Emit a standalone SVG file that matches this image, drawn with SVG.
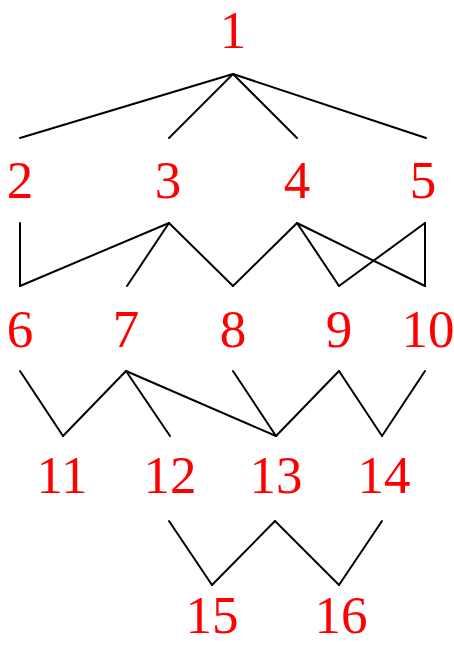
<svg xmlns="http://www.w3.org/2000/svg" width="454" height="646" viewBox="0 0 454 646">
<style>
text{font-family:"Liberation Serif","Times New Roman",serif;font-size:53px;fill:#ff0000;text-anchor:middle}
#edges line{stroke:#000;stroke-width:2;stroke-linecap:round}
</style>
<rect width="454" height="646" fill="#fff"/>
<g id="edges">
<line x1="233" y1="74" x2="20" y2="138"/>
<line x1="233" y1="74" x2="169" y2="138"/>
<line x1="233" y1="74" x2="297" y2="138"/>
<line x1="233" y1="74" x2="426" y2="138"/>
<line x1="20" y1="223" x2="20" y2="286"/>
<line x1="169" y1="223" x2="20" y2="286"/>
<line x1="169" y1="223" x2="127" y2="286"/>
<line x1="169" y1="223" x2="233" y2="286"/>
<line x1="297" y1="223" x2="233" y2="286"/>
<line x1="297" y1="223" x2="339" y2="286"/>
<line x1="297" y1="223" x2="425" y2="286"/>
<line x1="425" y1="223" x2="339" y2="286"/>
<line x1="425" y1="223" x2="425" y2="286"/>
<line x1="20" y1="371" x2="63" y2="436"/>
<line x1="126" y1="371" x2="63" y2="436"/>
<line x1="126" y1="371" x2="170" y2="436"/>
<line x1="126" y1="371" x2="276" y2="436"/>
<line x1="233" y1="371" x2="276" y2="436"/>
<line x1="339" y1="371" x2="276" y2="436"/>
<line x1="339" y1="371" x2="382" y2="436"/>
<line x1="425" y1="371" x2="382" y2="436"/>
<line x1="169" y1="521" x2="212" y2="585"/>
<line x1="275" y1="521" x2="212" y2="585"/>
<line x1="275" y1="521" x2="339" y2="585"/>
<line x1="382" y1="521" x2="339" y2="585"/>
</g>
<g id="n1"><text x="233" y="48">1</text></g>
<g id="n2"><text x="20" y="198">2</text></g>
<g id="n3"><text x="168" y="198">3</text></g>
<g id="n4"><text x="297" y="198">4</text></g>
<g id="n5"><text x="423" y="198">5</text></g>
<g id="n6"><text x="20" y="347">6</text></g>
<g id="n7"><text x="126" y="347">7</text></g>
<g id="n8"><text x="233" y="347">8</text></g>
<g id="n9"><text x="339" y="347">9</text></g>
<g id="n10"><text x="428" y="347">10</text></g>
<g id="n11"><text x="62" y="493">11</text></g>
<g id="n12"><text x="170" y="493">12</text></g>
<g id="n13"><text x="276" y="493">13</text></g>
<g id="n14"><text x="384" y="493">14</text></g>
<g id="n15"><text x="212" y="633">15</text></g>
<g id="n16"><text x="341" y="633">16</text></g>
</svg>
